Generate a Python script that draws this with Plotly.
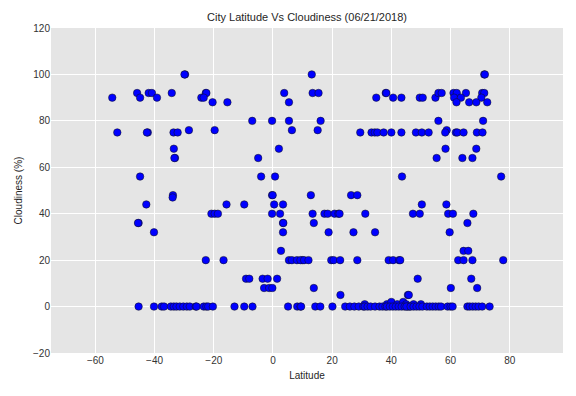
import plotly.graph_objects as go

# (latitude, cloudiness) pairs grouped by region
south_lat = [-54.3, -52.6, -45.9, -44.9, -42.0, -40.9, -39.2, -34.2, -24.2, -22.7, -22.5, -23.4,
             -20.4, -15.4, -29.7, -29.9, -42.3, -42.6, -33.6, -32.2, -28.4, -19.7, -33.5, -33.1,
             -33.3, -44.9, -33.8, -33.9, -42.8, -45.4, -45.6, -40.2, -15.7, -9.7, -20.8, -19.7,
             -18.6, -22.7, -16.7, -9.1, -8.0, -3.5, -1.8, 1.4, -3.0, -1.3, -0.2]
south_cld = [90, 75, 92, 90, 92, 92, 90, 92, 90, 92, 92, 90,
             88, 88, 100, 100, 75, 75, 75, 75, 76, 76, 68, 64,
             64, 56, 48, 47, 44, 36, 36, 32, 44, 44, 40, 40,
             40, 20, 20, 12, 12, 12, 12, 12, 8, 8, 8]

tropic_lat = [3.8, 5.4, -7.0, -0.3, 5.4, 6.4, 2.0, -5.0, -4.0, 0.7, -0.3, -0.1, 0.4, 3.4,
              -0.3, 2.4, 3.4, 3.5, 3.4, 2.7, 5.4, 6.4, 8.1, 9.9]
tropic_cld = [92, 88, 80, 80, 80, 76, 68, 64, 56, 56, 48, 48, 44, 44,
              40, 40, 36, 36, 32, 24, 20, 20, 20, 20]

mid_lat = [13.1, 13.4, 15.4, 16.1, 15.1, 34.9, 38.1, 38.3, 40.6, 43.4, 29.5, 33.3, 34.4, 35.3,
           37.4, 40.0, 43.4, 43.6, 12.8, 26.4, 28.5, 13.4, 17.4, 18.5, 20.8, 22.1, 22.5, 31.2,
           13.8, 18.8, 27.2, 34.5, 9.3, 10.5, 12.0, 19.7, 20.5, 22.7, 28.5, 39.1, 40.6, 42.6,
           43.0, 13.8, 22.8, 45.6, 31.0, 38.5, 40.0, 42.0, 44.0, 45.0, 47.5, 50.0]
mid_cld = [100, 92, 92, 80, 76, 90, 92, 92, 90, 90, 75, 75, 75, 75,
           75, 75, 75, 56, 48, 48, 48, 40, 40, 40, 40, 40, 40, 40,
           36, 32, 32, 32, 20, 20, 20, 20, 20, 20, 20, 20, 20, 20,
           20, 8, 5, 5, 1, 1, 2, 1, 2, 1, 1, 1]

north_lat = [71.4, 71.6, 49.6, 50.6, 54.9, 55.9, 57.0, 61.0, 62.1, 65.2, 70.7, 71.4, 61.2, 63.5,
             70.4, 62.0, 66.3, 68.7, 72.4, 55.9, 71.0, 48.3, 50.3, 52.6, 58.7, 58.2, 61.8, 62.3,
             64.4, 68.9, 70.8, 58.3, 68.7, 55.3, 64.0, 67.4, 77.1, 50.3, 58.6, 47.3, 49.6, 59.2,
             60.8, 67.7, 65.7, 59.7, 64.4, 66.0, 62.6, 64.4, 67.4, 77.8, 48.9, 67.0, 45.9, 60.1,
             69.0]
north_cld = [100, 100, 90, 90, 90, 92, 92, 92, 92, 92, 92, 92, 90, 90,
             90, 88, 88, 88, 88, 80, 80, 75, 75, 75, 76, 75, 75, 75,
             75, 75, 75, 68, 68, 64, 64, 64, 56, 44, 44, 40, 40, 40,
             40, 40, 36, 32, 24, 24, 20, 20, 20, 20, 12, 12, 5, 8,
             8]

zero_lat = [-45.4, -40.2, -37.6, -36.8, -34.5, -33.5, -32.6, -31.5, -30.3, -29.1, -28.1, -26.1,
            -25.8, -23.4, -22.5, -21.9, -20.3, -13.0, -9.7, -6.9, 5.1, 8.2, 9.3, 9.5,
            14.3, 16.0, 20.1, 24.4, 26.0, 27.5, 29.0, 30.5, 31.0, 32.0, 33.0, 34.5, 36.0, 37.0,
            38.0, 38.5, 39.5, 40.5, 41.5, 42.5, 43.5, 44.5, 45.5, 46.1, 45.1, 46.5, 47.5, 48.5,
            49.5, 50.5, 52.0, 53.0, 54.0, 55.0, 56.0, 56.8, 59.0, 60.0, 60.7, 65.7, 66.5, 67.5,
            68.5, 69.5, 70.7, 73.2]
zero_cld = [0] * len(zero_lat)

lat = south_lat + tropic_lat + mid_lat + north_lat + zero_lat
cld = south_cld + tropic_cld + mid_cld + north_cld + zero_cld

x_ticks = [-60, -40, -20, 0, 20, 40, 60, 80]
y_ticks = [-20, 0, 20, 40, 60, 80, 100, 120]

fig = go.Figure(go.Scatter(
    x=lat, y=cld, mode="markers",
    marker=dict(size=7.5, color="#0000FF", line=dict(color="#111111", width=0.5)),
))

font = "Liberation Sans, Arial, sans-serif"
fig.update_layout(
    width=576, height=396,
    margin=dict(l=51, r=13, t=28, b=43),
    paper_bgcolor="white", plot_bgcolor="#E5E5E5",
    showlegend=False,
    font=dict(family=font, size=10, color="#333333"),
    title=dict(text="City Latitude Vs Cloudiness (06/21/2018)", x=0.533, xanchor="center",
               y=0.957, yanchor="middle", font=dict(family=font, size=11, color="#262626")),
)
fig.update_xaxes(range=[-75.0, 98.0], tickvals=x_ticks, showgrid=True, gridcolor="white",
                 gridwidth=1, zeroline=False, showline=False, ticks="",
                 title=dict(text="Latitude", standoff=6, font=dict(size=10, color="#262626")))
fig.update_yaxes(range=[-20, 120], tickvals=y_ticks, showgrid=True, gridcolor="white",
                 gridwidth=1, zeroline=False, showline=False, ticks="",
                 title=dict(text="Cloudiness (%)", standoff=8, font=dict(size=10, color="#262626")))

fig.write_html("out.html")
